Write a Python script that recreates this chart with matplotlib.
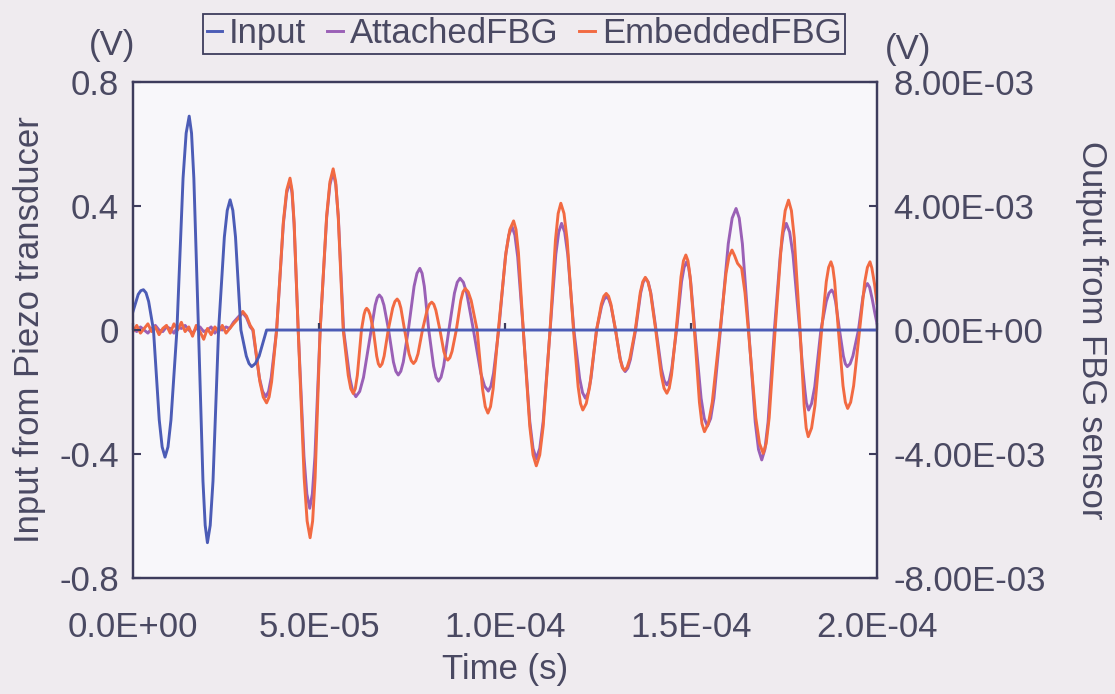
import matplotlib.pyplot as plt
import numpy as np
from matplotlib.ticker import FuncFormatter
from matplotlib.lines import Line2D

plt.rcParams['font.family'] = ['Liberation Sans', 'DejaVu Sans']

# piezo drive signal: (time in us, volts)
input_pts = [
    (0, 0.06), (1.4, 0.115), (2.1, 0.127), (2.8, 0.13), (3.5, 0.12), (4.2, 0.092), (5.5, 0.0),
    (7.05, -0.29), (7.83, -0.377), (8.6, -0.41), (9.4, -0.377), (10.2, -0.29), (11.8, 0.0),
    (13.45, 0.49), (14.28, 0.635), (15.1, 0.69), (15.73, 0.635), (16.35, 0.49), (17.6, 0.0),
    (18.8, -0.487), (19.4, -0.63), (20.0, -0.686), (20.75, -0.63), (21.5, -0.487), (23.0, 0.0),
    (24.55, 0.30), (25.33, 0.386), (26.1, 0.42), (26.83, 0.386), (27.55, 0.30), (29.0, 0.0),
    (30.45, -0.084), (31.18, -0.108), (31.9, -0.118), (32.9, -0.108), (33.9, -0.084),
    (35.9, 0.0), (200, 0.0),
]

# surface-attached FBG: (time in us, millivolts)
attached_pts = [
    (0, 0.05), (1, -0.05), (2, 0.1), (3, 0.0), (4, -0.1), (5, 0.05), (6, 0.15), (7, 0.0),
    (8, -0.05), (9, 0.1), (10, 0.05), (11, -0.1), (12, 0.1), (13, 0.05), (14, 0.15), (15, 0.0),
    (16, -0.1), (17, 0.05), (18, 0.1), (19, -0.05), (20, 0.0), (21, 0.1), (22, -0.1), (23, 0.05),
    (24, 0.0), (25, 0.1), (26, 0.05), (27, 0.25), (28.5, 0.45), (29.5, 0.55), (30.5, 0.4),
    (31.5, 0.1), (32.2, 0.0),
    (33.95, -1.53), (34.83, -1.98), (35.7, -2.15), (36.43, -1.98), (37.15, -1.53), (38.6, 0.0),
    (40.4, 3.41), (41.3, 4.42), (42.2, 4.8), (42.75, 4.42), (43.3, 3.41), (44.4, 0.0),
    (45.95, -4.08), (46.73, -5.29), (47.5, -5.75), (48.2, -5.29), (48.9, -4.08), (50.3, 0.0),
    (52.05, 3.62), (52.93, 4.69), (53.8, 5.1), (54.5, 4.69), (55.2, 3.62), (56.6, 0.0),
    (58.25, -1.53), (59.08, -1.98), (59.9, -2.15), (60.93, -1.98), (61.95, -1.53), (64.0, 0.0),
    (65.1, 0.8), (65.65, 1.04), (66.2, 1.13), (66.83, 1.04), (67.45, 0.8), (68.7, 0.0),
    (70.0, -1.03), (70.65, -1.33), (71.3, -1.45), (71.98, -1.33), (72.65, -1.03), (74.0, 0.0),
    (75.55, 1.41), (76.33, 1.83), (77.1, 1.99), (77.7, 1.83), (78.3, 1.41), (79.5, 0.0),
    (80.8, -1.17), (81.45, -1.52), (82.1, -1.65), (82.8, -1.52), (83.5, -1.17), (84.9, 0.0),
    (86.4, 1.19), (87.15, 1.54), (87.9, 1.67), (88.8, 1.54), (89.7, 1.19), (91.5, 0.0),
    (93.5, -1.4), (94.5, -1.81), (95.5, -1.97), (96.2, -1.81), (96.9, -1.4), (98.3, 0.0),
    (100.1, 2.36), (101.0, 3.06), (101.9, 3.33), (102.65, 3.06), (103.4, 2.36), (104.9, 0.0),
    (106.65, -2.95), (107.53, -3.82), (108.4, -4.15), (109.33, -3.82), (110.25, -2.95), (112.1, 0.0),
    (113.65, 2.44), (114.43, 3.16), (115.2, 3.44), (116.03, 3.16), (116.85, 2.44), (118.5, 0.0),
    (120.05, -1.56), (120.83, -2.02), (121.6, -2.2), (122.35, -2.02), (123.1, -1.56), (124.6, 0.0),
    (125.95, 0.77), (126.63, 0.99), (127.3, 1.08), (127.9, 0.99), (128.5, 0.77), (129.7, 0.0),
    (131.0, -0.95), (131.65, -1.23), (132.3, -1.34), (133.0, -1.23), (133.7, -0.95), (135.1, 0.0),
    (136.45, 1.19), (137.13, 1.54), (137.8, 1.67), (138.5, 1.54), (139.2, 1.19), (140.6, 0.0),
    (142.05, -1.26), (142.78, -1.63), (143.5, -1.77), (144.15, -1.63), (144.8, -1.26), (146.1, 0.0),
    (147.45, 1.56), (148.13, 2.02), (148.8, 2.2), (149.35, 2.02), (149.9, 1.56), (151.0, 0.0),
    (152.7, -2.2), (153.55, -2.85), (154.4, -3.1), (155.28, -2.85), (156.15, -2.2), (157.9, 0.0),
    (160.0, 2.78), (161.05, 3.61), (162.1, 3.92), (162.95, 3.61), (163.8, 2.78), (165.5, 0.0),
    (167.25, -2.97), (168.13, -3.85), (169.0, -4.19), (169.85, -3.85), (170.7, -2.97), (172.4, 0.0),
    (174.0, 2.44), (174.8, 3.16), (175.6, 3.44), (176.5, 3.16), (177.4, 2.44), (179.2, 0.0),
    (179.9, -1.1), (180.6, -1.94), (181.0, -2.35), (181.6, -2.58), (182.4, -2.37), (183.25, -1.83),
    (184.9, 0.0),
    (186.35, 0.92), (187.08, 1.19), (187.8, 1.29), (188.33, 1.19), (188.85, 0.92), (189.9, 0.0),
    (190.95, -0.84), (191.48, -1.09), (192.0, -1.18), (192.75, -1.09), (193.5, -0.84), (195.0, 0.0),
    (196.2, 1.07), (196.8, 1.38), (197.4, 1.5), (198.0, 1.38), (198.7, 1.0), (199.4, 0.55),
    (200.0, 0.2),
]

# embedded FBG: (time in us, millivolts)
embedded_pts = [
    (0, -0.05), (1, 0.15), (2, -0.1), (3, 0.05), (4, 0.2), (5, -0.05), (6, 0.1), (7, -0.15),
    (8, 0.05), (9, 0.15), (10, -0.1), (11, 0.2), (12, 0.0), (13, 0.25), (14, -0.05), (15, 0.1),
    (16, -0.2), (17, 0.15), (18, -0.05), (19, -0.3), (20, 0.05), (21, -0.15), (22, 0.1),
    (23, -0.05), (24, 0.15), (25, -0.1), (26, 0.05), (27, 0.2), (28.5, 0.4), (29.5, 0.6),
    (30.5, 0.45), (31.5, 0.15), (32.3, 0.0),
    (34.1, -1.67), (35.0, -2.16), (35.9, -2.35), (36.58, -2.16), (37.25, -1.67), (38.6, 0.0),
    (40.4, 3.48), (41.3, 4.51), (42.2, 4.9), (42.75, 4.51), (43.3, 3.48), (44.4, 0.0),
    (46.0, -4.76), (46.8, -6.16), (47.6, -6.7), (48.28, -6.16), (48.95, -4.76), (50.3, 0.0),
    (52.05, 3.69), (52.93, 4.78), (53.8, 5.2), (54.48, 4.78), (55.15, 3.69), (56.5, 0.0),
    (57.85, -1.46), (58.53, -1.89), (59.2, -2.05), (59.75, -1.89), (60.3, -1.46), (61.4, 0.0),
    (62.1, 0.5), (62.45, 0.64), (62.8, 0.7), (63.25, 0.64), (63.7, 0.5), (64.6, 0.0),
    (65.5, -0.84), (65.95, -1.09), (66.4, -1.18), (66.95, -1.09), (67.5, -0.84), (68.6, 0.0),
    (69.8, 0.71), (70.4, 0.92), (71.0, 1.0), (71.5, 0.92), (72.0, 0.71), (73.0, 0.0),
    (74.2, -0.77), (74.8, -0.99), (75.4, -1.08), (76.0, -0.99), (76.6, -0.77), (77.8, 0.0),
    (79.05, 0.64), (79.68, 0.83), (80.3, 0.9), (80.85, 0.83), (81.4, 0.64), (82.5, 0.0),
    (83.55, -0.69), (84.08, -0.89), (84.6, -0.97), (85.18, -0.89), (85.75, -0.69), (86.9, 0.0),
    (88.1, 0.95), (88.7, 1.23), (89.3, 1.34), (90.1, 1.23), (90.9, 0.95), (92.5, 0.0),
    (93.95, -1.9), (94.68, -2.47), (95.4, -2.68), (96.1, -2.47), (96.8, -1.9), (98.2, 0.0),
    (100.25, 2.5), (101.28, 3.24), (102.3, 3.52), (102.95, 3.24), (103.6, 2.5), (104.9, 0.0),
    (106.65, -3.11), (107.53, -4.03), (108.4, -4.38), (109.33, -4.03), (110.25, -3.11), (112.1, 0.0),
    (113.55, 2.9), (114.28, 3.76), (115.0, 4.09), (115.85, 3.76), (116.7, 2.9), (118.4, 0.0),
    (119.65, -1.83), (120.28, -2.37), (120.9, -2.58), (121.83, -2.37), (122.75, -1.83), (124.6, 0.0),
    (125.9, 0.84), (126.55, 1.09), (127.2, 1.18), (127.83, 1.09), (128.45, 0.84), (129.7, 0.0),
    (130.9, -0.92), (131.5, -1.2), (132.1, -1.3), (132.83, -1.2), (133.55, -0.92), (135.0, 0.0),
    (136.35, 1.21), (137.03, 1.56), (137.7, 1.7), (138.4, 1.56), (139.1, 1.21), (140.5, 0.0),
    (142.0, -1.45), (142.75, -1.88), (143.5, -2.04), (144.13, -1.88), (144.75, -1.45), (146.0, 0.0),
    (147.3, 1.72), (147.95, 2.23), (148.6, 2.42), (149.18, 2.23), (149.75, 1.72), (150.9, 0.0),
    (152.25, -2.33), (152.93, -3.02), (153.6, -3.28), (154.65, -3.02), (155.7, -2.33), (157.8, 0.0),
    (159.4, 1.83), (160.2, 2.37), (161.0, 2.58), (161.7, 2.4), (162.5, 2.15), (163.6, 1.99),
    (164.5, 1.2), (165.4, 0.0),
    (167.4, -2.83), (168.4, -3.66), (169.4, -3.98), (170.2, -3.66), (171.0, -2.83), (172.6, 0.0),
    (174.4, 2.97), (175.3, 3.85), (176.2, 4.19), (176.98, 3.85), (177.75, 2.97), (179.3, 0.0),
    (180.4, -2.44), (180.95, -3.16), (181.5, -3.44), (182.4, -3.16), (183.3, -2.44), (185.1, 0.0),
    (186.35, 1.56), (186.98, 2.02), (187.6, 2.2), (188.1, 2.02), (188.6, 1.56), (189.6, 0.0),
    (190.85, -1.8), (191.48, -2.33), (192.1, -2.53), (192.9, -2.33), (193.7, -1.8), (195.3, 0.0),
    (196.7, 1.56), (197.4, 2.02), (198.1, 2.2), (198.6, 2.0), (199.3, 1.5), (200.0, 0.86),
]

x_ticks = [0, 5e-5, 1e-4, 1.5e-4, 2e-4]
left_ticks = [-0.8, -0.4, 0, 0.4, 0.8]
right_ticks = [-8e-3, -4e-3, 0, 4e-3, 8e-3]

t_in, v_in = np.array(input_pts).T
t_att, v_att = np.array(attached_pts).T
t_emb, v_emb = np.array(embedded_pts).T
t_in, t_att, t_emb = t_in * 1e-6, t_att * 1e-6, t_emb * 1e-6
v_att, v_emb = v_att * 1e-3, v_emb * 1e-3

c_in = '#4c5cb6'
c_att = '#9a60b6'
c_emb = '#f26a42'
ink = '#4a4962'
frame = '#3d3c5c'
fs = 25
lw = 2.1

fig = plt.figure(figsize=(11.15, 6.94), dpi=100, facecolor='#efebef')
ax = fig.add_axes([0.1193, 0.1671, 0.6673, 0.7147])
ax2 = ax.twinx()

ax2.plot(t_att, v_att, color=c_att, lw=lw, solid_joinstyle='round')
ax2.plot(t_emb, v_emb, color=c_emb, lw=lw, solid_joinstyle='round')
ax.plot(t_in, v_in, color=c_in, lw=lw, solid_joinstyle='round')

# keep the drive signal above the sensor traces
ax.set_zorder(ax2.get_zorder() + 1)
ax.patch.set_visible(False)
ax2.patch.set_visible(True)
ax2.patch.set_facecolor('#f8f7fa')

ax.set_xlim(0, 2e-4)
ax.set_ylim(-0.8, 0.8)
ax2.set_ylim(-8e-3, 8e-3)
ax.set_xticks(x_ticks)
ax.set_yticks(left_ticks)
ax2.set_yticks(right_ticks)
ax.xaxis.set_major_formatter(FuncFormatter(lambda v, p: '%.1E' % v))
ax.yaxis.set_major_formatter(FuncFormatter(lambda v, p: '%g' % v))
ax2.yaxis.set_major_formatter(FuncFormatter(lambda v, p: '%.2E' % v))

ax.tick_params(axis='x', length=0, pad=24, labelsize=fs, labelcolor=ink)
ax.tick_params(axis='y', direction='in', length=6, width=1.5, color=frame, pad=10,
               labelsize=fs, labelcolor=ink)
ax2.tick_params(axis='y', direction='in', length=6, width=1.5, color=frame, pad=12,
                labelsize=fs, labelcolor=ink)
for a in (ax, ax2):
    for s in a.spines.values():
        s.set_color(frame)
        s.set_linewidth(1.6)

# horizontal axis crosses at zero with small upward ticks
zero_axis = ax.secondary_xaxis(0.5)
zero_axis.set_xticks(x_ticks)
zero_axis.tick_params(axis='x', length=5, width=1.6, color=frame, labeltop=False, labelbottom=False)
for s in zero_axis.spines.values():
    s.set_visible(False)

ax.set_xlabel('Time (s)', fontsize=fs, color=ink)
ax.xaxis.set_label_coords(0.5, -0.152)
ax.set_ylabel('Input from Piezo transducer', fontsize=fs, color=ink)
ax.yaxis.set_label_coords(-0.117, 0.5)
ax2.set_ylabel('Output from FBG sensor', fontsize=fs, color=ink, rotation=270)
ax2.yaxis.set_label_coords(1.311, 0.5)

fig.text(0.1004, 0.934, '(V)', fontsize=fs, color=ink, ha='center', va='center')
fig.text(0.8143, 0.928, '(V)', fontsize=fs, color=ink, ha='center', va='center')

handles = [Line2D([], [], color=c, lw=lw) for c in (c_in, c_att, c_emb)]
leg = fig.legend(handles, ['Input', 'AttachedFBG', 'EmbeddedFBG'], loc='upper center',
                 bbox_to_anchor=(0.47, 0.98), ncol=3, fontsize=fs, frameon=True,
                 fancybox=False, edgecolor=frame, facecolor='#efebef', framealpha=1,
                 handlelength=0.45, handletextpad=0.2, columnspacing=0.6, borderpad=0.1,
                 borderaxespad=0)
leg.get_frame().set_linewidth(1.3)
for txt in leg.get_texts():
    txt.set_color(ink)

fig.savefig('out.png', dpi=100, facecolor=fig.get_facecolor())
